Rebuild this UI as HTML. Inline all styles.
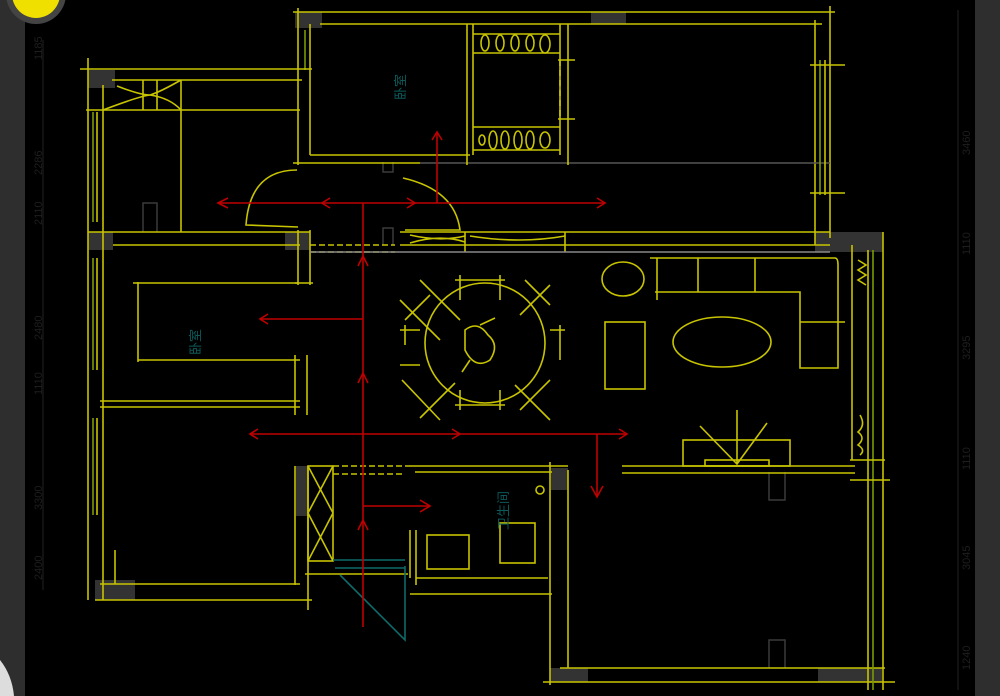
<!DOCTYPE html>
<html><head><style>
html,body{margin:0;padding:0;background:#000;width:1000px;height:696px;overflow:hidden}
svg{display:block}
text{font-family:"Liberation Sans","Noto Sans CJK SC",sans-serif}
</style></head><body>
<svg width="1000" height="696" viewBox="0 0 1000 696" xmlns="http://www.w3.org/2000/svg">
<rect width="1000" height="696" fill="#000"/>
<rect x="0" y="0" width="25" height="696" fill="#2e2e2e"/>
<rect x="975" y="0" width="25" height="696" fill="#2e2e2e"/>
<circle cx="36" cy="-6" r="30" fill="#444"/>
<circle cx="36" cy="-6" r="24" fill="#f0e000"/>
<path d="M0 660 Q12 675 14 696 L0 696Z" fill="#ddd"/>
<g stroke="#222" stroke-width="1">
<line x1="43" y1="40" x2="43" y2="590"/><line x1="958" y1="10" x2="958" y2="690"/>
</g>
<g fill="#1e1e1e" font-size="11">
<text transform="translate(42,60) rotate(-90)">1185</text>
<text transform="translate(42,175) rotate(-90)">2286</text>
<text transform="translate(42,225) rotate(-90)">2110</text>
<text transform="translate(42,340) rotate(-90)">2480</text>
<text transform="translate(42,395) rotate(-90)">1110</text>
<text transform="translate(42,510) rotate(-90)">3300</text>
<text transform="translate(42,580) rotate(-90)">2400</text>
<text transform="translate(970,155) rotate(-90)">3460</text>
<text transform="translate(970,255) rotate(-90)">1110</text>
<text transform="translate(970,360) rotate(-90)">3295</text>
<text transform="translate(970,470) rotate(-90)">1110</text>
<text transform="translate(970,570) rotate(-90)">3045</text>
<text transform="translate(970,670) rotate(-90)">1240</text>
</g>
<g fill="#333">
<rect x="295" y="12" width="27" height="16"/><rect x="591" y="12" width="35" height="12"/>
<rect x="88" y="70" width="27" height="18"/><rect x="88" y="232" width="25" height="18"/>
<rect x="285" y="232" width="25" height="18"/><rect x="815" y="232" width="68" height="20"/>
<rect x="95" y="580" width="40" height="20"/><rect x="550" y="668" width="38" height="14"/>
<rect x="818" y="668" width="64" height="14"/><rect x="551" y="468" width="17" height="22"/>
<rect x="296" y="466" width="12" height="50"/>
</g>
<g stroke="#3a3a3a" stroke-width="1.5" fill="none">
<path d="M143 232V203H157V232"/><path d="M383 162V172H393V162"/><path d="M383 245V228H393V245"/>
<path d="M769 472V500H785V472"/><path d="M769 668V640H785V640V668"/>
</g>
<g stroke="#c8c400" stroke-width="1.6" fill="none">
<line x1="293" y1="12" x2="835" y2="12"/><line x1="320" y1="24" x2="822" y2="24"/>
<line x1="298" y1="8" x2="298" y2="165"/><line x1="310" y1="24" x2="310" y2="155"/>
<line x1="815" y1="20" x2="815" y2="245"/><line x1="830" y1="6" x2="830" y2="238"/>
<line x1="310" y1="155" x2="470" y2="155"/><line x1="293" y1="163" x2="420" y2="163"/>
<line x1="420" y1="163" x2="830" y2="163" stroke="#555"/>
<line x1="305" y1="30" x2="305" y2="70" stroke="#7a9a00"/><line x1="820" y1="60" x2="820" y2="195" stroke="#7a9a00"/><line x1="825" y1="60" x2="825" y2="195"/>
<line x1="810" y1="65" x2="845" y2="65"/><line x1="810" y1="193" x2="845" y2="193"/>
<line x1="467" y1="24" x2="467" y2="165"/><line x1="473" y1="24" x2="473" y2="155"/>
<line x1="560" y1="24" x2="560" y2="155"/><line x1="568" y1="24" x2="568" y2="165"/>
<line x1="473" y1="34" x2="560" y2="34"/><line x1="473" y1="53" x2="560" y2="53"/>
<line x1="473" y1="127" x2="560" y2="127"/><line x1="473" y1="150" x2="560" y2="150"/>
<line x1="560" y1="60" x2="560" y2="120" stroke-dasharray="6 4"/>
<line x1="558" y1="60" x2="575" y2="60"/><line x1="558" y1="119" x2="575" y2="119"/>
<ellipse cx="485" cy="43" rx="4" ry="8"/><ellipse cx="500" cy="43" rx="4" ry="8"/><ellipse cx="515" cy="43" rx="4" ry="8"/><ellipse cx="530" cy="43" rx="4" ry="8"/><ellipse cx="545" cy="44" rx="5" ry="9"/>
<ellipse cx="482" cy="140" rx="3" ry="5"/><ellipse cx="493" cy="140" rx="4" ry="9"/><ellipse cx="505" cy="140" rx="4" ry="9"/><ellipse cx="518" cy="140" rx="4" ry="9"/><ellipse cx="530" cy="140" rx="4" ry="9"/><ellipse cx="545" cy="140" rx="5" ry="8"/>
<line x1="80" y1="69" x2="312" y2="69"/><line x1="112" y1="80" x2="302" y2="80"/>
<line x1="86" y1="110" x2="300" y2="110"/>
<line x1="88" y1="58" x2="88" y2="600"/><line x1="103" y1="85" x2="103" y2="600"/>
<line x1="93" y1="112" x2="93" y2="222" stroke="#7a9a00"/><line x1="97" y1="112" x2="97" y2="222"/>
<line x1="181" y1="80" x2="181" y2="232"/>
<path d="M103 110 Q140 96 150 95 Q160 92 181 80 M117 86 Q140 95 150 95 Q170 98 181 110"/>
<line x1="143" y1="80" x2="143" y2="110"/><line x1="157" y1="80" x2="157" y2="110"/>
<line x1="88" y1="232" x2="310" y2="232"/><line x1="113" y1="245" x2="300" y2="245"/>
<line x1="298" y1="230" x2="298" y2="285"/><line x1="310" y1="230" x2="310" y2="285"/>
<line x1="295" y1="283" x2="313" y2="283"/>
<line x1="310" y1="245" x2="395" y2="245" stroke-dasharray="6 3"/><line x1="310" y1="252" x2="395" y2="252" stroke-dasharray="6 3"/>
<line x1="400" y1="232" x2="830" y2="232"/><line x1="400" y1="245" x2="830" y2="245"/>
<path d="M410 235 Q440 242 465 236 M410 243 Q440 234 465 242"/>
<line x1="465" y1="232" x2="465" y2="252"/><line x1="565" y1="232" x2="565" y2="252"/>
<path d="M470 236 Q520 244 565 236"/>
<line x1="310" y1="252" x2="830" y2="252" stroke="#888"/>
<path d="M297 170 Q250 170 246 225 L298 227"/>
<path d="M403 178 Q455 190 460 230 L405 230"/>
<line x1="138" y1="282" x2="138" y2="362"/><line x1="133" y1="283" x2="298" y2="283"/>
<line x1="100" y1="401" x2="300" y2="401"/><line x1="100" y1="407" x2="300" y2="407"/>
<line x1="295" y1="355" x2="295" y2="415"/><line x1="307" y1="355" x2="307" y2="415"/>
<line x1="138" y1="360" x2="300" y2="360"/>
<line x1="93" y1="258" x2="93" y2="370" stroke="#7a9a00"/><line x1="97" y1="258" x2="97" y2="370"/>
<line x1="93" y1="418" x2="93" y2="515" stroke="#7a9a00"/><line x1="97" y1="418" x2="97" y2="515"/>
<line x1="100" y1="584" x2="300" y2="584"/><line x1="95" y1="600" x2="312" y2="600"/>
<line x1="115" y1="550" x2="115" y2="584"/><line x1="295" y1="466" x2="295" y2="585"/><line x1="308" y1="466" x2="308" y2="610"/>
<rect x="308" y="466" width="25" height="95"/>
<path d="M308 466 L333 513 M333 466 L308 513 M308 513 L333 561 M333 513 L308 561"/>
<line x1="305" y1="574" x2="408" y2="574"/><line x1="333" y1="466" x2="403" y2="466" stroke-dasharray="6 3"/>
<line x1="333" y1="474" x2="403" y2="474" stroke-dasharray="6 3"/>
<line x1="405" y1="466" x2="568" y2="466"/><line x1="415" y1="472" x2="552" y2="472"/>
<line x1="410" y1="530" x2="410" y2="578"/><line x1="416" y1="530" x2="416" y2="585"/>
<rect x="427" y="535" width="42" height="34"/><rect x="500" y="523" width="35" height="40"/>
<line x1="416" y1="578" x2="548" y2="578"/><line x1="410" y1="594" x2="552" y2="594"/>
<circle cx="540" cy="490" r="4"/>
<line x1="550" y1="462" x2="550" y2="685"/><line x1="568" y1="470" x2="568" y2="668"/>
<line x1="560" y1="668" x2="885" y2="668"/><line x1="543" y1="682" x2="895" y2="682"/>
<line x1="852" y1="245" x2="852" y2="460"/><line x1="868" y1="250" x2="868" y2="690"/>
<line x1="873" y1="250" x2="873" y2="690" stroke="#7a9a00"/><line x1="883" y1="232" x2="883" y2="690"/>
<line x1="850" y1="460" x2="885" y2="460"/><line x1="850" y1="480" x2="890" y2="480"/>
<path d="M858 260 L866 265 L858 270 L866 275 L858 280 L866 285"/>
<path d="M860 415 Q866 425 858 432 Q866 438 858 445 Q866 450 860 455"/>
<line x1="622" y1="466" x2="855" y2="466"/><line x1="622" y1="473" x2="855" y2="473"/>
<rect x="683" y="440" width="107" height="26"/><rect x="705" y="460" width="64" height="6"/>
<path d="M700 426 L737 464 L767 423 M737 410 L737 464"/>
<ellipse cx="623" cy="279" rx="21" ry="17"/>
<rect x="605" y="322" width="40" height="67"/>
<ellipse cx="722" cy="342" rx="49" ry="25"/>
<path d="M650 258 H835 Q838 258 838 265 V368 H800 V292 H655"/>
<line x1="698" y1="258" x2="698" y2="292"/><line x1="755" y1="258" x2="755" y2="292"/>
<line x1="800" y1="322" x2="845" y2="322"/><line x1="657" y1="258" x2="657" y2="300"/>
<circle cx="485" cy="343" r="60"/>
<path d="M465 330 Q478 320 488 335 Q500 345 490 360 Q475 370 465 350 Z M480 325 L495 318 M470 360 L462 372"/>
<path d="M400 300 L440 340 M420 280 L460 320 M525 280 L550 305 M550 285 L520 315 M405 320 L430 295 M402 380 L440 420 M420 418 L455 383 M515 385 L550 420 M520 410 L550 380"/>
<path d="M460 275 V300 M500 275 V300 M455 280 H505 M455 405 H505 M460 390 V410 M500 390 V410 M400 330 H420 M405 325 V345 M550 330 H565 M560 325 V360 M400 365 H420"/>
</g>
<g stroke="#0f6a6a" stroke-width="1.6" fill="none">
<path d="M333 560 H405 M335 568 H405 M340 575 L405 640 V566"/>
</g>
<g fill="#0c5a5a" font-size="13">
<text x="390" y="115" transform="rotate(-90 390 100)">卧室</text>
<text x="185" y="350" transform="rotate(-90 195 345)">卧室</text>
<text x="478" y="540" transform="rotate(-90 488 520)">卫生间</text>
</g>
<g stroke="#c00000" stroke-width="1.6" fill="none">
<line x1="218" y1="203" x2="605" y2="203"/>
<path d="M228 198 L218 203 L228 208 M597 198 L605 203 L597 208 M330 198 L322 203 L330 208 M407 198 L415 203 L407 208"/>
<line x1="437" y1="203" x2="437" y2="132"/><path d="M432 140 L437 132 L442 140"/>
<line x1="363" y1="203" x2="363" y2="627"/>
<path d="M358 266 L363 256 L368 266 M358 383 L363 373 L368 383 M358 530 L363 520 L368 530"/>
<line x1="260" y1="319" x2="363" y2="319"/><path d="M268 314 L260 319 L268 324"/>
<line x1="250" y1="434" x2="627" y2="434"/><path d="M258 429 L250 434 L258 439 M452 429 L460 434 L452 439 M619 429 L627 434 L619 439"/>
<line x1="597" y1="434" x2="597" y2="497"/><path d="M591 486 L597 497 L603 486"/>
<line x1="363" y1="506" x2="430" y2="506"/><path d="M420 500 L430 506 L420 512"/>
</g>
</svg>
</body></html>
